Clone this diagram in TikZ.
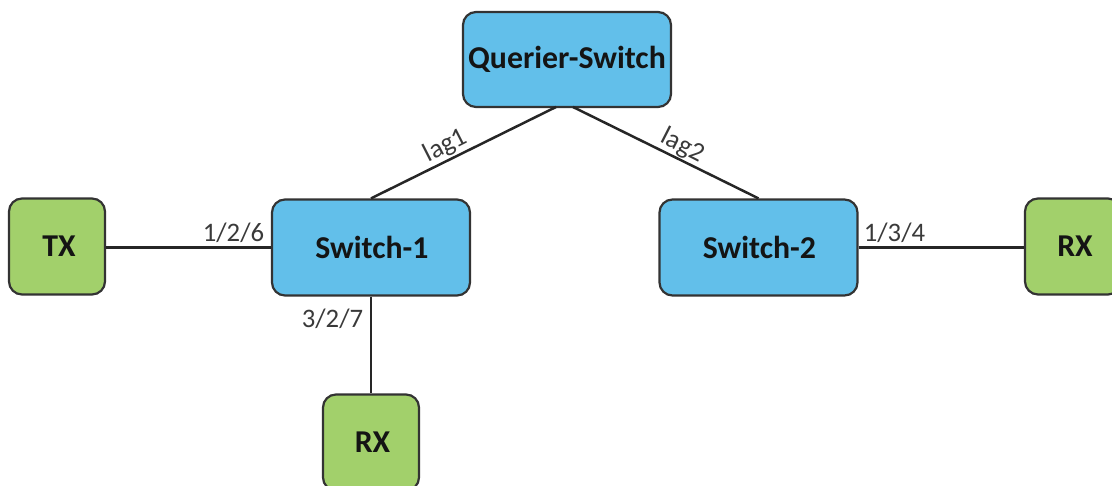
\documentclass[tikz,border=0pt]{standalone}
\usepackage{fontspec}
\setmainfont{Carlito}
\definecolor{swblue}{HTML}{62BFEA}
\definecolor{hostgreen}{HTML}{A2D06B}
\definecolor{edge}{HTML}{333333}
\definecolor{lab}{HTML}{3A3A3A}
\tikzset{
  box/.style={draw=edge,line width=2.2pt,rounded corners=13pt,inner sep=0pt,anchor=center,font=\fontsize{31.8}{34}\selectfont\bfseries,text=black!92},
  switchbox/.style={box,fill=swblue,minimum width=198pt,minimum height=96pt},
  hostbox/.style={box,fill=hostgreen,minimum width=96pt,minimum height=96pt},
  link/.style={draw=black!85,line width=2.5pt},
  portlabel/.style={font=\fontsize{26.7}{29}\selectfont,text=lab,inner sep=0pt,anchor=center}
}
\begin{document}
\begin{tikzpicture}[x=1pt,y=-1pt]
\useasboundingbox (0,0) rectangle (1112,486);
\node[switchbox,minimum width=208pt,minimum height=95pt] (q) at (567,59.5) {\raisebox{-2pt}{Querier-Switch}};
\node[switchbox] (s1) at (371,247.5) {\raisebox{-1pt}{\kern2pt Switch-1}};
\node[switchbox] (s2) at (758.5,247.5) {\raisebox{-1pt}{\kern2pt Switch-2}};
\node[hostbox] (tx) at (57,246.5) {\kern4pt TX};
\node[hostbox] (rx1) at (371,442.5) {\kern3pt RX};
\node[hostbox] (rx2) at (1073,246.5) {\kern4pt RX};
\coordinate (q1) at (556,107);
\coordinate (q2) at (573,107);
\draw[link] (q1) -- (s1.north);
\draw[link] (q2) -- (s2.north);
\draw[link] (tx.east |- s1.west) -- (s1.west);
\draw[link] (s1.south) -- (rx1.north);
\draw[link] (s2.east) -- (rx2.west |- s2.east);
\node[portlabel,rotate=27] (l1) at (445.5,146) {lag1};
\node[portlabel,rotate=-27] (l2) at (682.5,146) {lag2};
\node[portlabel] (p1) at (233.5,232.5) {1/2/6};
\node[portlabel] (p2) at (332.5,318.5) {3/2/7};
\node[portlabel] (p3) at (894.5,232.5) {1/3/4};
\end{tikzpicture}
\end{document}
